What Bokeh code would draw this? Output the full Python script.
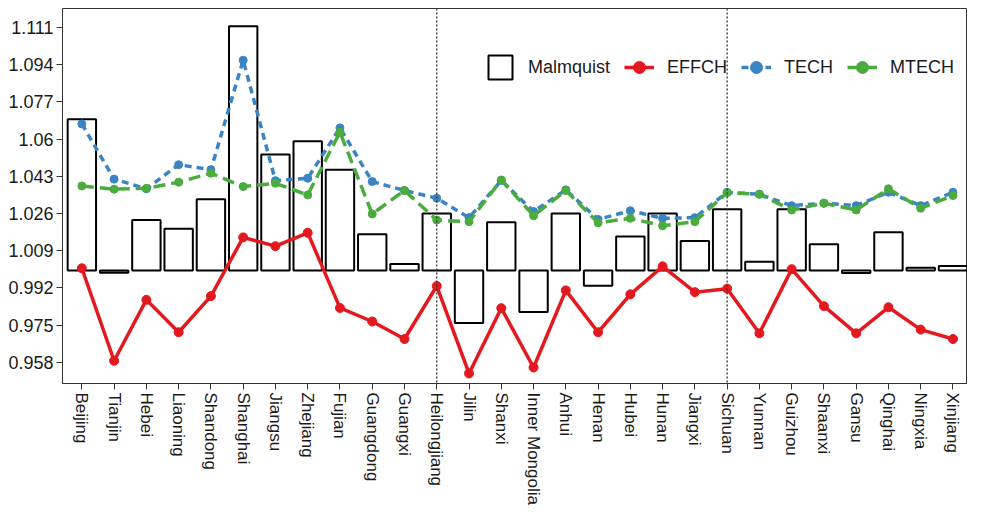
import math
from bokeh.plotting import figure
from bokeh.models import Range1d, FixedTicker, Span, Legend, LegendItem, ColumnDataSource
from bokeh.embed import file_html
from bokeh.resources import INLINE

provinces = ["Beijing", "Tianjin", "Hebei", "Liaoning", "Shandong", "Shanghai", "Jiangsu",
             "Zhejiang", "Fujian", "Guangdong", "Guangxi", "Heilongjiang", "Jilin", "Shanxi",
             "Inner Mongolia", "Anhui", "Henan", "Hubei", "Hunan", "Jiangxi", "Sichuan",
             "Yunnan", "Guizhou", "Shaanxi", "Gansu", "Qinghai", "Ningxia", "Xinjiang"]

malmquist = [1.069, 0.999, 1.023, 1.019, 1.0325, 1.1115, 1.053, 1.059, 1.046, 1.0165,
             1.003, 1.026, 0.976, 1.022, 0.981, 1.026, 0.993, 1.0155, 1.026, 1.0135,
             1.028, 1.004, 1.028, 1.012, 0.9988, 1.0175, 1.0013, 1.002]

effch = [1.001, 0.9588, 0.9866, 0.9718, 0.9883, 1.0151, 1.0111, 1.0172, 0.9829, 0.9767,
         0.9687, 0.9929, 0.953, 0.9828, 0.9557, 0.9909, 0.9718, 0.9891, 1.0019, 0.9901,
         0.9917, 0.9713, 1.0006, 0.9837, 0.9713, 0.9832, 0.973, 0.9687]

tech = [1.0669, 1.0417, 1.0373, 1.0483, 1.046, 1.096, 1.041, 1.0421, 1.0651, 1.0406,
        1.0365, 1.033, 1.0241, 1.0411, 1.0269, 1.0368, 1.0233, 1.0273, 1.0238, 1.0241,
        1.0357, 1.0348, 1.0296, 1.0307, 1.0296, 1.0357, 1.0296, 1.0357]

mtech = [1.0386, 1.0371, 1.0375, 1.0403, 1.0444, 1.0383, 1.0398, 1.0345, 1.0631, 1.0258,
         1.0365, 1.023, 1.0223, 1.0413, 1.025, 1.0365, 1.0218, 1.0238, 1.0204, 1.0223,
         1.0355, 1.0348, 1.0276, 1.0307, 1.0276, 1.0373, 1.0284, 1.0342]

y_ticks = [0.958, 0.975, 0.992, 1.009, 1.026, 1.043, 1.06, 1.077, 1.094, 1.111]
y_tick_labels = ["0.958", "0.975", "0.992", "1.009", "1.026", "1.043", "1.06", "1.077", "1.094", "1.111"]
divider_provinces = ["Heilongjiang", "Sichuan"]
baseline = 1.0

FONT = "Liberation Sans"
RED = "#e3191f"
BLUE = "#3b84c4"
GREEN = "#4aac3d"

idx = list(range(len(provinces)))
src = ColumnDataSource(dict(x=idx, malmquist=malmquist, effch=effch, tech=tech, mtech=mtech))

p = figure(width=967, height=507, output_backend="svg", toolbar_location=None,
           x_range=Range1d(-0.6, 27.45), y_range=Range1d(0.9484, 1.1196),
           min_border_left=62, min_border_top=8, min_border_right=0, min_border_bottom=119,
           background_fill_color="white", border_fill_color="white")
p.outline_line_color = "#333333"
p.outline_line_width = 1
p.xgrid.visible = False
p.ygrid.visible = False

bars = p.vbar(x="x", top="malmquist", bottom=baseline, width=0.88, source=src,
              fill_color="white", line_color="black", line_width=2)

for name in divider_provinces:
    p.add_layout(Span(location=provinces.index(name), dimension="height",
                      line_color="#333333", line_width=1.3, line_dash="2 2"))

rl = p.line("x", "effch", source=src, line_color=RED, line_width=3.5)
rc = p.scatter("x", "effch", source=src, size=9, fill_color=RED, line_color=RED)
bl = p.line("x", "tech", source=src, line_color=BLUE, line_width=3.5, line_dash="7 5")
bc = p.scatter("x", "tech", source=src, size=8, fill_color=BLUE, line_color=BLUE)
gl = p.line("x", "mtech", source=src, line_color=GREEN, line_width=3.5, line_dash="12 6")
gc = p.scatter("x", "mtech", source=src, size=8, fill_color=GREEN, line_color=GREEN)

# axes
p.xaxis.ticker = FixedTicker(ticks=idx)
p.xaxis.major_label_overrides = {i: n for i, n in enumerate(provinces)}
p.xaxis.major_label_orientation = -math.pi / 2
p.yaxis.ticker = FixedTicker(ticks=y_ticks)
p.yaxis.major_label_overrides = {t: l for t, l in zip(y_ticks, y_tick_labels)}
for ax in (p.xaxis, p.yaxis):
    ax.axis_line_color = "#333333"
    ax.major_tick_line_color = "#333333"
    ax.major_tick_out = 6
    ax.major_tick_in = 0
    ax.minor_tick_line_color = None
    ax.major_label_text_font = FONT
    ax.major_label_text_color = "#1a1a1a"
p.yaxis.major_label_text_font_size = "18px"
p.yaxis.major_label_standoff = 3
p.xaxis.major_label_text_font_size = "17px"
p.xaxis.major_label_standoff = 3

legend = Legend(items=[LegendItem(label="Malmquist", renderers=[bars]),
                       LegendItem(label="EFFCH", renderers=[rl, rc]),
                       LegendItem(label="TECH", renderers=[bl, bc]),
                       LegendItem(label="MTECH", renderers=[gl, gc])],
                orientation="horizontal", location=(423, 301), padding=0, margin=0,
                spacing=14, glyph_width=30, glyph_height=30, label_standoff=13,
                border_line_alpha=0, background_fill_alpha=0,
                label_text_font=FONT, label_text_font_size="18px", label_text_color="#1a1a1a")
p.add_layout(legend)

open("out.html", "w").write(file_html(p, INLINE))
